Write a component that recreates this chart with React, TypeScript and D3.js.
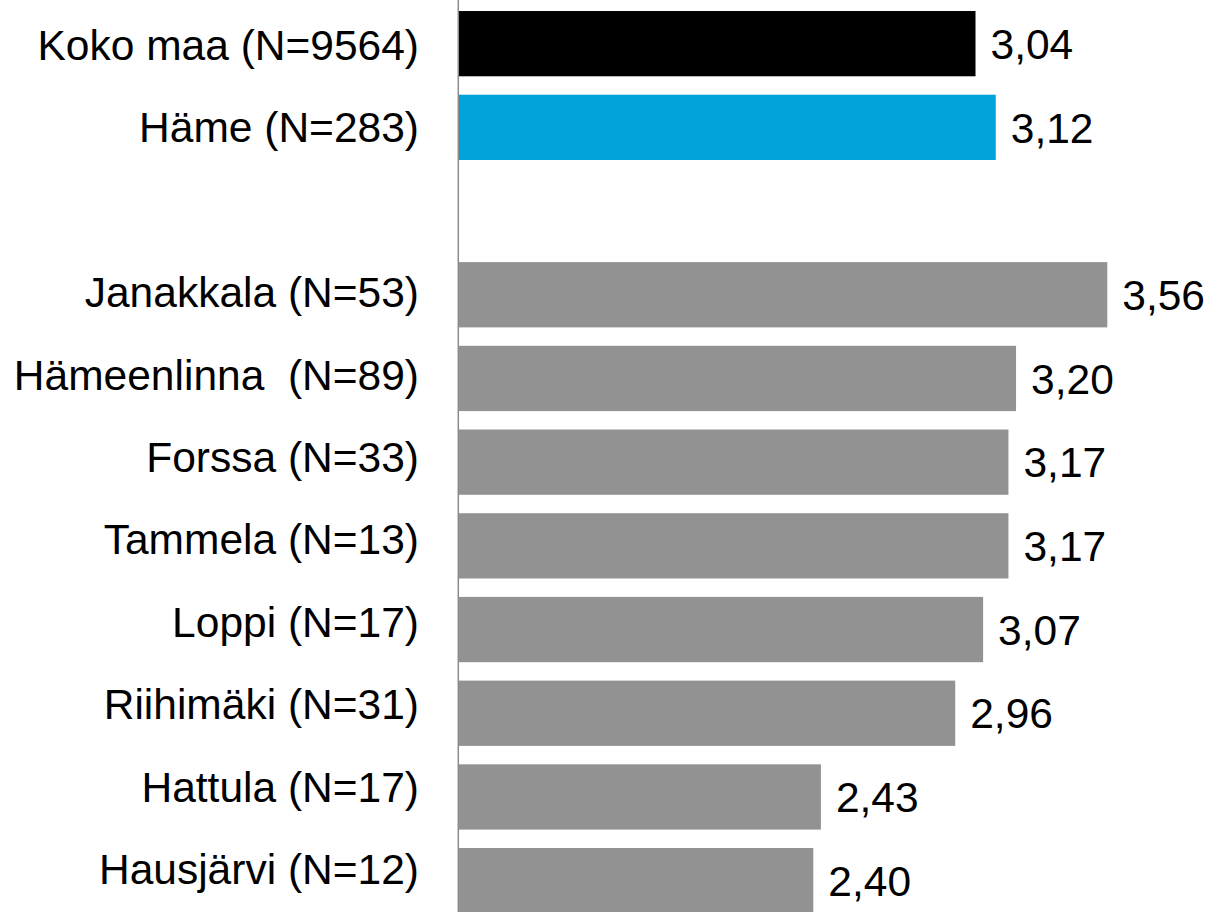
import * as d3 from "d3";

const categories = [
  "Koko maa (N=9564)",
  "Häme (N=283)",
  "",
  "Janakkala (N=53)",
  "Hämeenlinna  (N=89)",
  "Forssa (N=33)",
  "Tammela (N=13)",
  "Loppi (N=17)",
  "Riihimäki (N=31)",
  "Hattula (N=17)",
  "Hausjärvi (N=12)",
];

const values: (number | null)[] = [3.04, 3.12, null, 3.56, 3.2, 3.17, 3.17, 3.07, 2.96, 2.43, 2.4];

const colors = ["#000000", "#00a3da", "none", "#929292", "#929292", "#929292", "#929292", "#929292", "#929292", "#929292", "#929292"];

const width = 1213;
const height = 912;
const fontSize = 42.5;
const font = "'Liberation Sans', Arial, sans-serif";

export default function App() {
  const keys = categories.map((_, i) => String(i));

  const x = d3.scaleLinear().domain([1, 4]).range([458.5, 1218.8]);

  const y = d3
    .scaleBand()
    .domain(keys)
    .range([1.8, 922.5])
    .paddingInner(0.22)
    .paddingOuter(0.11);

  // category labels sit on a slightly tighter grid than the bars
  const yLabel = d3.scalePoint().domain(keys).range([44.5, 869]);

  const fmt = (v: number) => d3.format(".2f")(v).replace(".", ",");
  const capMid = fontSize * 0.358;

  return (
    <svg
      width={width}
      height={height}
      style={{ position: "absolute", left: 0, top: 0, display: "block", background: "#fff" }}
    >
      {values.map((v, i) => {
        if (v === null) return null;
        const k = keys[i];
        const y0 = y(k) ?? 0;
        return (
          <rect
            key={k}
            x={x(1)}
            y={y0}
            width={x(v) - x(1)}
            height={y.bandwidth()}
            fill={colors[i]}
          />
        );
      })}

      <line x1={458.3} x2={458.3} y1={0} y2={height} stroke="#8c8c8c" strokeWidth={1.5} />

      {categories.map((c, i) =>
        c ? (
          <text
            key={`l${i}`}
            x={419}
            y={(yLabel(keys[i]) ?? 0) + capMid}
            textAnchor="end"
            fontFamily={font}
            fontSize={fontSize}
            fill="#000"
            style={{ whiteSpace: "pre" }}
          >
            {c}
          </text>
        ) : null
      )}

      {values.map((v, i) => {
        if (v === null) return null;
        const k = keys[i];
        const cy = (y(k) ?? 0) + y.bandwidth() / 2;
        return (
          <text
            key={`v${i}`}
            x={x(v) + 15}
            y={cy + capMid}
            fontFamily={font}
            fontSize={fontSize}
            fill="#000"
          >
            {fmt(v)}
          </text>
        );
      })}
    </svg>
  );
}
